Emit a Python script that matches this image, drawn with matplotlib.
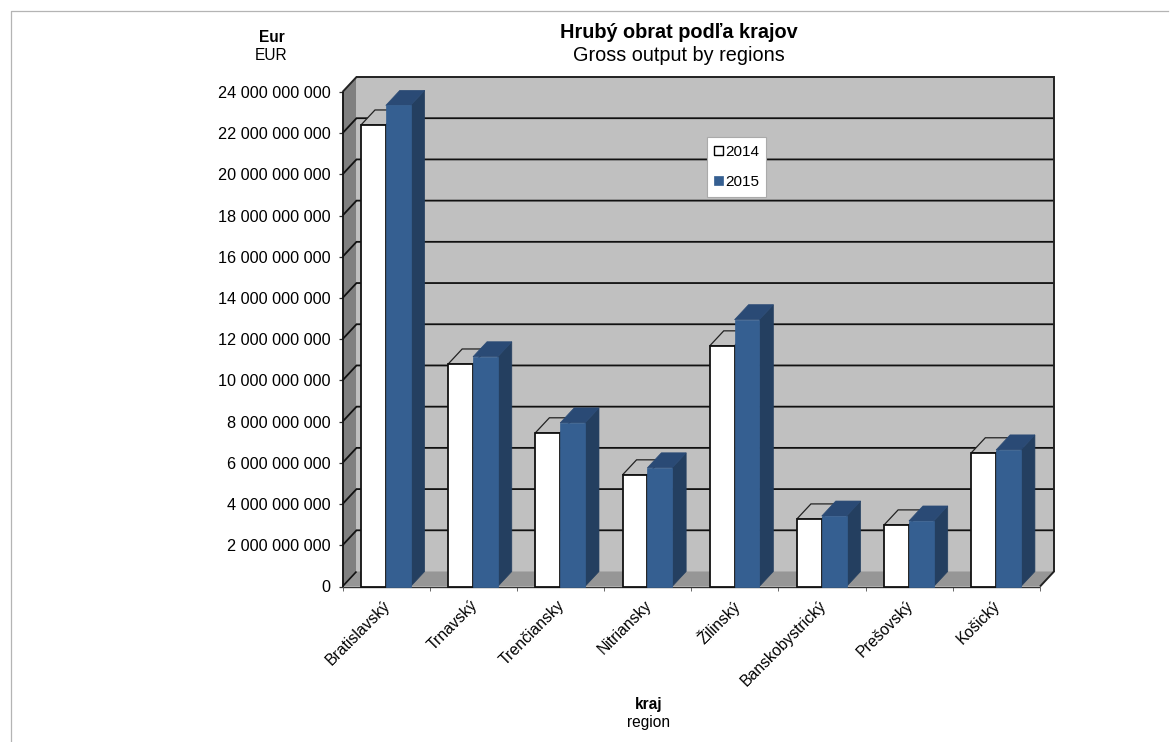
import matplotlib
matplotlib.use("Agg")
import matplotlib.pyplot as plt
from matplotlib.patches import Polygon, Rectangle
from matplotlib.lines import Line2D
from matplotlib.transforms import ScaledTranslation

plt.rcParams['font.family'] = ['Liberation Sans', 'DejaVu Sans']

regions = ['Bratislavský', 'Trnavský', 'Trenčiansky', 'Nitriansky', 'Žilinský',
           'Banskobystrický', 'Prešovský', 'Košický']
values_2014 = [22.4e9, 10.8e9, 7.46e9, 5.42e9, 11.68e9, 3.28e9, 2.99e9, 6.49e9]
values_2015 = [23.35e9, 11.15e9, 7.94e9, 5.76e9, 12.95e9, 3.42e9, 3.18e9, 6.63e9]
y_ticks = [v * 1000000000 for v in range(0, 25, 2)]
y_labels = [f"{v:,}".replace(",", " ") for v in y_ticks]

W, H = 1170, 742
fig = plt.figure(figsize=(W / 100, H / 100), dpi=100, facecolor='white')

# frame of the page
fig.add_artist(Line2D([10.5 / W, 10.5 / W, 1168 / W], [0, 1 - 10.5 / H, 1 - 10.5 / H],
                      color='#b4b4b4', lw=0.9))

L, R, T, B = 342.5, 1040.0, 92.0, 586.5
ax = fig.add_axes([L / W, 1 - B / H, (R - L) / W, (B - T) / H])
ax.set_xlim(0, 8)
ax.set_ylim(0, 24e9)
ax.patch.set_visible(False)
for s in ax.spines.values():
    s.set_visible(False)

dx = 14.0 / ((R - L) / 8)
dy = 15.0 / (B - T) * 24e9
ymax = 24e9
EDGE = '#111111'


def poly(pts, fc, ec='none', lw=0.0, z=1):
    ax.add_patch(Polygon(pts, closed=True, fc=fc, ec=ec, lw=lw, zorder=z, clip_on=False,
                         joinstyle='miter'))


def line(xs, ys, color=EDGE, lw=1.3, z=2):
    ax.plot(xs, ys, color=color, lw=lw, zorder=z, clip_on=False, solid_joinstyle='miter',
            solid_capstyle='butt')


# walls and floor
poly([(dx, dy), (8 + dx, dy), (8 + dx, ymax + dy), (dx, ymax + dy)], '#c0c0c0')
poly([(0, 0), (dx, dy), (dx, ymax + dy), (0, ymax)], '#808080')
poly([(0, 0), (8, 0), (8 + dx, dy), (dx, dy)], '#969696')

# gridlines on side and back wall
for v in y_ticks[1:-1]:
    line([0, dx, 8 + dx], [v, v + dy, v + dy], lw=1.3)
line([0, dx, 8 + dx, 8 + dx, 8], [ymax, ymax + dy, ymax + dy, dy, 0], color='#222222', lw=1.4)
line([0, dx], [0, dy], lw=1.2)
line([0, 0], [0, ymax], lw=1.3)
line([0, 8], [0, 0], color='#333333', lw=1.0)

# bars
unit = (R - L) / 8
bar_w = 24.8 / unit
gap = 18.5 / unit
for i, (a, b) in enumerate(zip(values_2014, values_2015)):
    x0 = i + gap
    x1 = x0 + bar_w
    x2 = x1 + bar_w
    # 2014 top and front
    poly([(x0, a), (x1, a), (x1 + dx, a + dy), (x0 + dx, a + dy)], '#c0c0c0', ec='#222222', lw=0.9, z=3)
    ax.add_patch(Rectangle((x0, 0), bar_w, a, fc='white', ec=EDGE, lw=1.3, zorder=4, clip_on=False))
    # 2015 side, top and front
    poly([(x2, 0), (x2 + dx, dy), (x2 + dx, b + dy), (x2, b)], '#243f60', ec='#243f60', lw=0.5, z=5)
    poly([(x1, b), (x2, b), (x2 + dx, b + dy), (x1 + dx, b + dy)], '#2a4a75', ec='#2a4a75', lw=0.5, z=5)
    ax.add_patch(Rectangle((x1, 0), bar_w, b, fc='#355f91', ec='#355f91', lw=0.5, zorder=6, clip_on=False))

# axes
ax.set_yticks(y_ticks, y_labels, fontsize=11.7, color='black')
ax.set_xticks(range(0, 9), minor=False, labels=[''] * 9)
ax.set_xticks([i + 0.5 for i in range(8)], regions, minor=True, rotation=45, ha='right',
              rotation_mode='anchor', fontsize=11.3)
ax.tick_params(axis='y', length=3.0, width=0.9, pad=5.5, color='#333333')
ax.tick_params(axis='x', which='major', length=3.0, width=0.7, color='#666666')
ax.tick_params(axis='x', which='minor', length=0, pad=8)
shift = ScaledTranslation(-3.5 / 100, 0, fig.dpi_scale_trans)
for lab in ax.get_xticklabels(minor=True):
    lab.set_transform(lab.get_transform() + shift)

# titles
fig.text(679 / W, 1 - 32 / H, 'Hrubý obrat podľa krajov', fontsize=14.3, fontweight='bold',
         ha='center', va='center')
fig.text(679 / W, 1 - 55.5 / H, 'Gross output by regions', fontsize=14.3, ha='center', va='center')
fig.text(271.5 / W, 1 - 37.5 / H, 'Eur', fontsize=11.2, fontweight='bold', ha='center', va='center')
fig.text(271 / W, 1 - 55 / H, 'EUR', fontsize=11.2, ha='center', va='center')
fig.text(649 / W, 1 - 704 / H, 'kraj', fontsize=11.2, fontweight='bold', ha='center', va='center')
fig.text(649 / W, 1 - 722.5 / H, 'region', fontsize=11.2, ha='center', va='center')

# legend
h_a = Rectangle((0, 0), 1, 1, fc='white', ec='black', lw=1)
h_b = Rectangle((0, 0), 1, 1, fc='#355f91', ec='#355f91', lw=0.5)
leg = fig.legend([h_a, h_b], ['2014', '2015'], loc='center', bbox_to_anchor=(736.5 / W, 1 - 167 / H),
                 fontsize=11, frameon=True, fancybox=False, framealpha=1, edgecolor='#aaaaaa',
                 handlelength=0.6, handleheight=0.6, handletextpad=0.1, labelspacing=1.05,
                 borderpad=0.5, borderaxespad=0)
leg.get_frame().set_linewidth(0.8)
leg.set_zorder(20)

fig.savefig('out.png', dpi=100, facecolor='white')
